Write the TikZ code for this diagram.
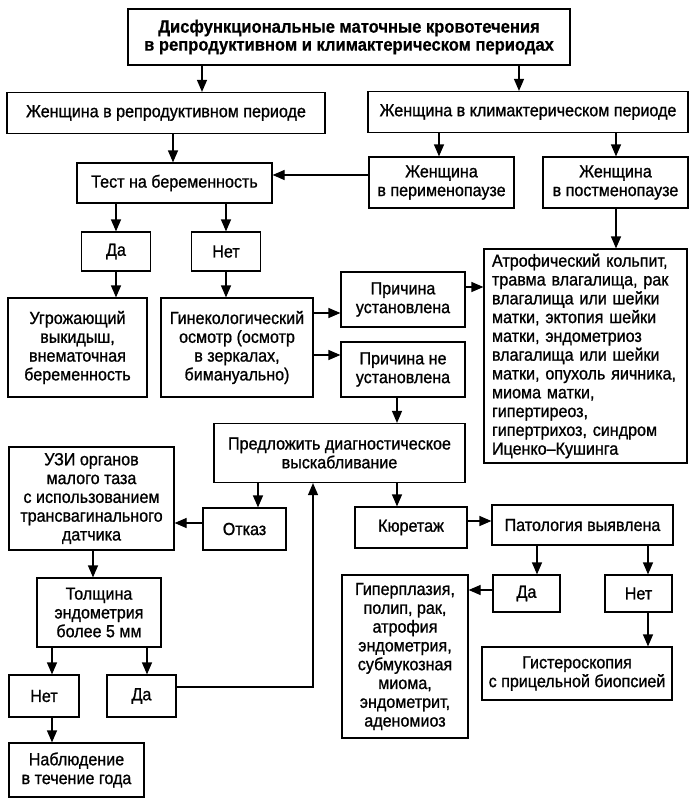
\documentclass[tikz,border=0pt]{standalone}
\usepackage{fontspec}
\setmainfont[FakeStretch=0.92,FakeBold=1.0]{Liberation Sans}
\newfontfamily\titlefont[FakeStretch=0.92,FakeBold=0.6]{Liberation Sans}
\usetikzlibrary{arrows.meta,calc}
\tikzset{
  box/.style={draw=black, line width=1.2pt, inner sep=0pt, align=center,
    font=\fontsize{17.5}{18.8}\selectfont},
  arr/.style={draw=black, line width=1.2pt, -{Triangle[length=12pt,width=10pt]}},
}
\begin{document}
\begin{tikzpicture}[x=1pt,y=1pt]
\useasboundingbox (0,0) rectangle (692,-803);
% boxes
\node[box, minimum width=442, minimum height=56, font=\titlefont\fontsize{18}{18}\selectfont\bfseries] (title) at (349,-37) {Дисфункциональные маточные кровотечения\\в репродуктивном и климактерическом периодах};
\node[box, minimum width=318, minimum height=41] (repro) at (166,-113) {Женщина в репродуктивном периоде};
\node[box, minimum width=320, minimum height=41] (clim) at (528,-112) {Женщина в климактерическом периоде};
\node[box, minimum width=195, minimum height=40] (test) at (174.5,-183) {Тест на беременность};
\node[box, minimum width=145, minimum height=51] (peri) at (441.5,-182.5) {Женщина\\в перименопаузе};
\node[box, minimum width=145, minimum height=51] (post) at (615.5,-182.5) {Женщина\\в постменопаузе};
\node[box, minimum width=69, minimum height=39] (da1) at (116,-251.5) {Да};
\node[box, minimum width=69, minimum height=39] (net1) at (226,-251.5) {Нет};
\node[box, minimum width=139, minimum height=99] (ugr) at (77.5,-347.5) {Угрожающий\\выкидыш,\\внематочная\\беременность};
\node[box, minimum width=152, minimum height=99] (gin) at (237,-347.5) {Гинекологический\\осмотр (осмотр\\в зеркалах,\\бимануально)};
\node[box, minimum width=124, minimum height=55] (pr1) at (403,-299.5) {Причина\\установлена};
\node[box, minimum width=124, minimum height=55] (pr2) at (403,-369.5) {Причина не\\установлена};
\node[box, minimum width=203, minimum height=214, align=left, text width=187] (atr) at (585.5,-356) {Атрофический кольпит,\\травма влагалища, рак\\влагалища или шейки\\матки, эктопия шейки\\матки, эндометриоз\\влагалища или шейки\\матки, опухоль яичника,\\миома матки,\\гипертиреоз,\\гипертрихоз, синдром\\Иценко--Кушинга};
\node[box, minimum width=251, minimum height=59] (pred) at (339.5,-453) {Предложить диагностическое\\выскабливание};
\node[box, minimum width=165, minimum height=103] (uzi) at (91.5,-498.5) {УЗИ органов\\малого таза\\с использованием\\трансвагинального\\датчика};
\node[box, minimum width=83, minimum height=42] (otk) at (244.5,-529) {Отказ};
\node[box, minimum width=112, minimum height=41] (kur) at (411,-527.5) {Кюретаж};
\node[box, minimum width=181, minimum height=40] (pat) at (582.5,-525) {Патология выявлена};
\node[box, minimum width=67, minimum height=37] (da2) at (526.5,-593.5) {Да};
\node[box, minimum width=67, minimum height=37] (net2) at (638.5,-593.5) {Нет};
\node[box, minimum width=126, minimum height=163] (hyp) at (405,-656.5) {Гиперплазия,\\полип, рак,\\атрофия\\эндометрия,\\субмукозная\\миома,\\эндометрит,\\аденомиоз};
\node[box, minimum width=190, minimum height=53] (hys) at (577,-673.5) {Гистероскопия\\с прицельной биопсией};
\node[box, minimum width=124, minimum height=69] (tol) at (99,-612.5) {Толщина\\эндометрия\\более 5 мм};
\node[box, minimum width=70, minimum height=42] (net3) at (44,-696) {Нет};
\node[box, minimum width=69, minimum height=42] (da3) at (141.5,-696) {Да};
\node[box, minimum width=135, minimum height=54] (nab) at (76.5,-770) {Наблюдение\\в течение года};
% helper coordinates
\coordinate (x202) at (202,0);
\coordinate (x519) at (519,0);
\coordinate (x173) at (173,0);
\coordinate (x439) at (439,0);
\coordinate (x616) at (616,0);
\coordinate (x397) at (397,0);
\coordinate (x258) at (258,0);
\coordinate (x313) at (313,0);
\coordinate (x537) at (537,0);
\coordinate (x648) at (648,0);
\coordinate (x93) at (93,0);
\coordinate (x52) at (52,0);
\coordinate (x147) at (147,0);
\coordinate (y175) at (0,-175);
\coordinate (y313) at (0,-313);
\coordinate (y355) at (0,-355);
\coordinate (y287) at (0,-287);
\coordinate (y523) at (0,-523);
\coordinate (y521) at (0,-521);
\coordinate (y590) at (0,-590);
\coordinate (y687) at (0,-687);
% connectors
\draw[arr] (title.south -| x202) -- (repro.north -| x202);
\draw[arr] (title.south -| x519) -- (clim.north -| x519);
\draw[arr] (repro.south -| x173) -- (test.north -| x173);
\draw[arr] (clim.south -| x439) -- (peri.north -| x439);
\draw[arr] (clim.south -| x616) -- (post.north -| x616);
\draw[arr] (peri.west |- y175) -- (test.east |- y175);
\draw[arr] (test.south -| da1) -- (da1.north);
\draw[arr] (test.south -| net1) -- (net1.north);
\draw[arr] (da1.south) -- (da1.south |- ugr.north);
\draw[arr] (net1.south) -- (net1.south |- gin.north);
\draw[arr] (gin.east |- y313) -- (pr1.west |- y313);
\draw[arr] (gin.east |- y355) -- (pr2.west |- y355);
\draw[arr] (pr1.east |- y287) -- (atr.west |- y287);
\draw[arr] (post.south -| x616) -- (atr.north -| x616);
\draw[arr] (pr2.south -| x397) -- (pred.north -| x397);
\draw[arr] (pred.south -| x258) -- (otk.north -| x258);
\draw[arr] (otk.west |- y523) -- (uzi.east |- y523);
\draw[arr] (pred.south -| x397) -- (kur.north -| x397);
\draw[arr] (kur.east |- y521) -- (pat.west |- y521);
\draw[arr] (pat.south -| x537) -- (da2.north -| x537);
\draw[arr] (pat.south -| x648) -- (net2.north -| x648);
\draw[arr] (da2.west |- y590) -- (hyp.east |- y590);
\draw[arr] (net2.south -| x648) -- (hys.north -| x648);
\draw[arr] (uzi.south -| x93) -- (tol.north -| x93);
\draw[arr] (tol.south -| x52) -- (net3.north -| x52);
\draw[arr] (tol.south -| x147) -- (da3.north -| x147);
\draw[arr] (net3.south -| x52) -- (nab.north -| x52);
\draw[arr] (da3.east |- y687) -| (pred.south -| x313);
\end{tikzpicture}
\end{document}
